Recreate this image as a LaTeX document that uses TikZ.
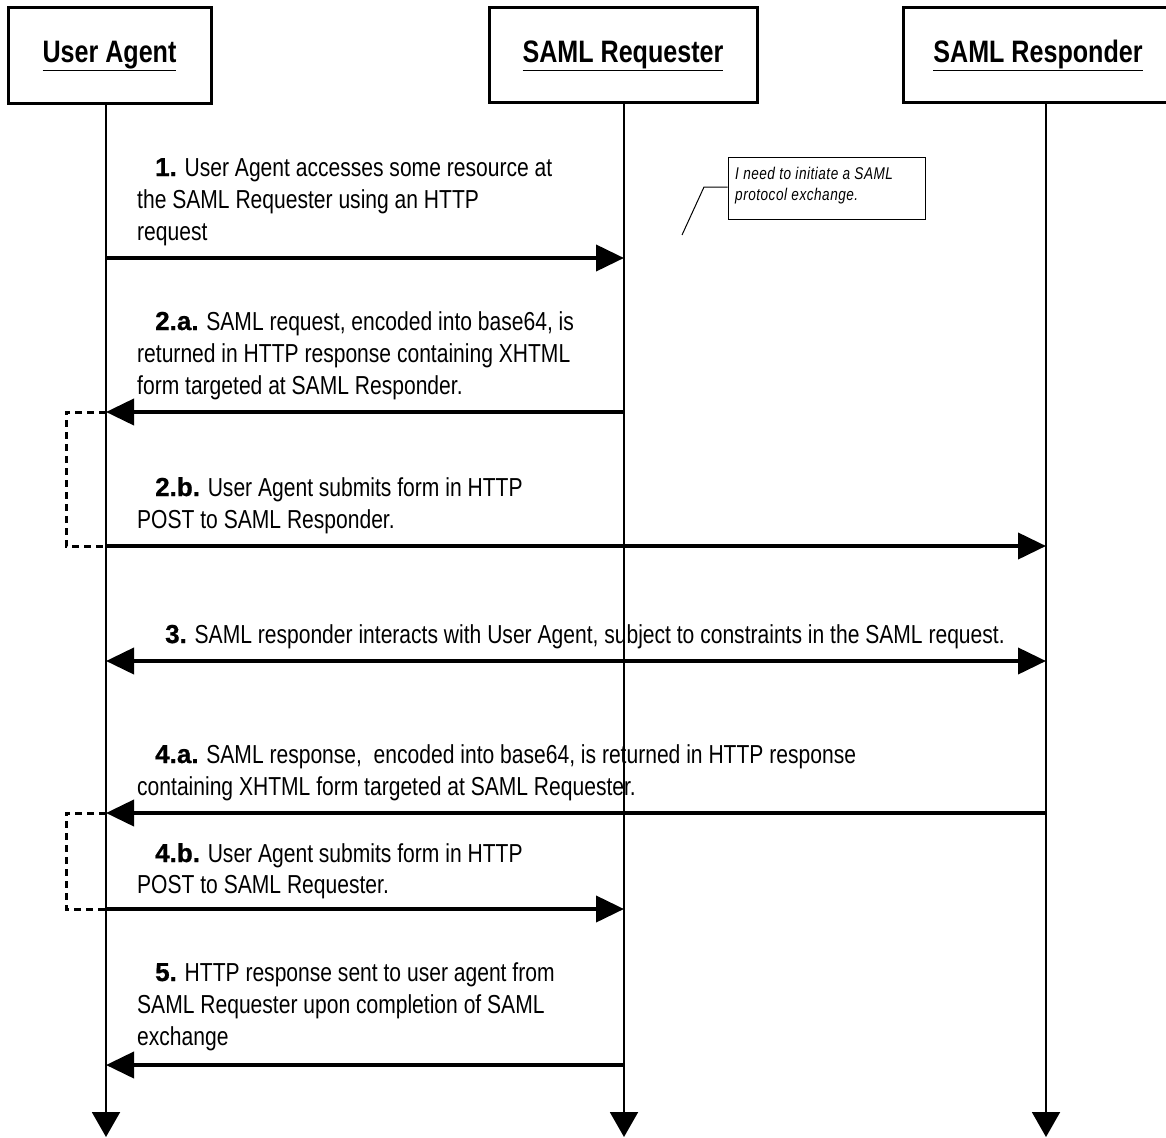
\documentclass[tikz,border=0pt]{standalone}
\usepackage{fontspec}
\usetikzlibrary{arrows.meta}
\setmainfont{Liberation Sans}
\newfontfamily\narrowfont[FakeStretch=0.81]{Liberation Sans}
\newfontfamily\numfont[FakeBold=0.8]{Liberation Sans Bold}
\newfontfamily\notefont[FakeStretch=0.8,LetterSpace=3]{Liberation Sans Italic}
\newcommand\msgfont{\narrowfont\fontsize{26pt}{32pt}\selectfont}
\newcommand\numlbl[1]{{\numfont #1}}
\tikzset{
  hdr/.style={draw, line width=3pt, inner sep=0pt, font=\narrowfont\bfseries\fontsize{31pt}{36pt}\selectfont},
  life/.style={line width=2pt, -{Triangle[length=25pt,width=28pt]}},
  msg/.style={line width=4pt, -{Triangle[length=28pt,width=26pt]}},
  msgboth/.style={line width=4pt, {Triangle[length=28pt,width=26pt]}-{Triangle[length=28pt,width=26pt]}},
  loopline/.style={line width=3pt, dash pattern=on 7pt off 5pt},
  lbl/.style={anchor=base west, inner sep=0pt, font=\msgfont},
  notebox/.style={draw, line width=1pt, inner sep=0pt},
  notetxt/.style={anchor=base west, inner sep=0pt, font=\notefont\fontsize{17pt}{20pt}\selectfont},
}
\begin{document}
\begin{tikzpicture}[x=1pt,y=-1pt]
\useasboundingbox (0,0) rectangle (1166,1137);
% headers
\node[hdr, minimum width=203pt, minimum height=96pt] (ua) at (109.5,56) {\underline{User Agent}};
\node[hdr, minimum width=268pt, minimum height=95pt] (rq) at (623,55.5) {\underline{SAML Requester}};
\node[hdr, minimum width=270pt, minimum height=95pt] (rp) at (1038,55.5) {\underline{SAML Responder}};
% lifeline points
\coordinate (uaTop) at (106,104);
\coordinate (rqTop) at (624,103);
\coordinate (rpTop) at (1046,103);
\coordinate (uaEnd) at (106,1137);
\coordinate (rqEnd) at (624,1137);
\coordinate (rpEnd) at (1046,1137);
\draw[life] (uaTop) -- (uaEnd);
\draw[life] (rqTop) -- (rqEnd);
\draw[life] (rpTop) -- (rpEnd);
% message end points
\coordinate (ua1) at (106,258);  \coordinate (rq1) at (624,258);
\coordinate (ua2) at (106,412);  \coordinate (rq2) at (624,412);
\coordinate (ua2b) at (106,546); \coordinate (rp2b) at (1046,546);
\coordinate (ua3) at (106,661);  \coordinate (rp3) at (1046,661);
\coordinate (ua4) at (106,813);  \coordinate (rp4) at (1046,813);
\coordinate (ua4b) at (106,909); \coordinate (rq4b) at (624,909);
\coordinate (ua5) at (106,1065); \coordinate (rq5) at (624,1065);
% loop corners
\coordinate (l2t) at (66,412); \coordinate (l2b) at (66,546);
\coordinate (l4t) at (66,813); \coordinate (l4b) at (66,909);
% messages
\draw[msg] (ua1) -- (rq1);
\draw[msg] (rq2) -- (ua2);
\draw[loopline] (ua2) -- (l2t) -- (l2b) -- (ua2b);
\draw[msg] (ua2b) -- (rp2b);
\draw[msgboth] (ua3) -- (rp3);
\draw[msg] (rp4) -- (ua4);
\draw[loopline] (ua4) -- (l4t) -- (l4b) -- (ua4b);
\draw[msg] (ua4b) -- (rq4b);
\draw[msg] (rq5) -- (ua5);
% labels
\node[lbl] (t1a) at (155,176) {\numlbl{1.} User Agent accesses some resource at};
\node[lbl] (t1b) at (137,208) {the SAML Requester using an HTTP};
\node[lbl] (t1c) at (137,240) {request};
\node[lbl] (t2a) at (155,330) {\numlbl{2.a.} SAML request, encoded into base64, is};
\node[lbl] (t2b) at (137,362) {returned in HTTP response containing XHTML};
\node[lbl] (t2c) at (137,394) {form targeted at SAML Responder.};
\node[lbl] (t2d) at (155,496) {\numlbl{2.b.} User Agent submits form in HTTP};
\node[lbl] (t2e) at (137,528) {POST to SAML Responder.};
\node[lbl] (t3a) at (165,643) {\numlbl{3.} SAML responder interacts with User Agent, subject to constraints in the SAML request.};
\node[lbl] (t4a) at (155,763) {\numlbl{4.a.} SAML response,\ \ encoded into base64, is returned in HTTP response};
\node[lbl] (t4b) at (137,795) {containing XHTML form targeted at SAML Requester.};
\node[lbl] (t4c) at (155,862) {\numlbl{4.b.} User Agent submits form in HTTP};
\node[lbl] (t4d) at (137,893) {POST to SAML Requester.};
\node[lbl] (t5a) at (155,981) {\numlbl{5.} HTTP response sent to user agent from};
\node[lbl] (t5b) at (137,1013) {SAML Requester upon completion of SAML};
\node[lbl] (t5c) at (137,1045) {exchange};
% note
\node[notebox, minimum width=197pt, minimum height=62pt] (note) at (826.5,188) {};
\node[notetxt] (n1) at (735,179) {I need to initiate a SAML};
\node[notetxt] (n2) at (735,200) {protocol exchange.};
\coordinate (c1) at (704,187);
\coordinate (c2) at (682,235);
\draw[line width=1pt] (note.west |- c1) -- (c1) -- (c2);
\end{tikzpicture}
\end{document}
